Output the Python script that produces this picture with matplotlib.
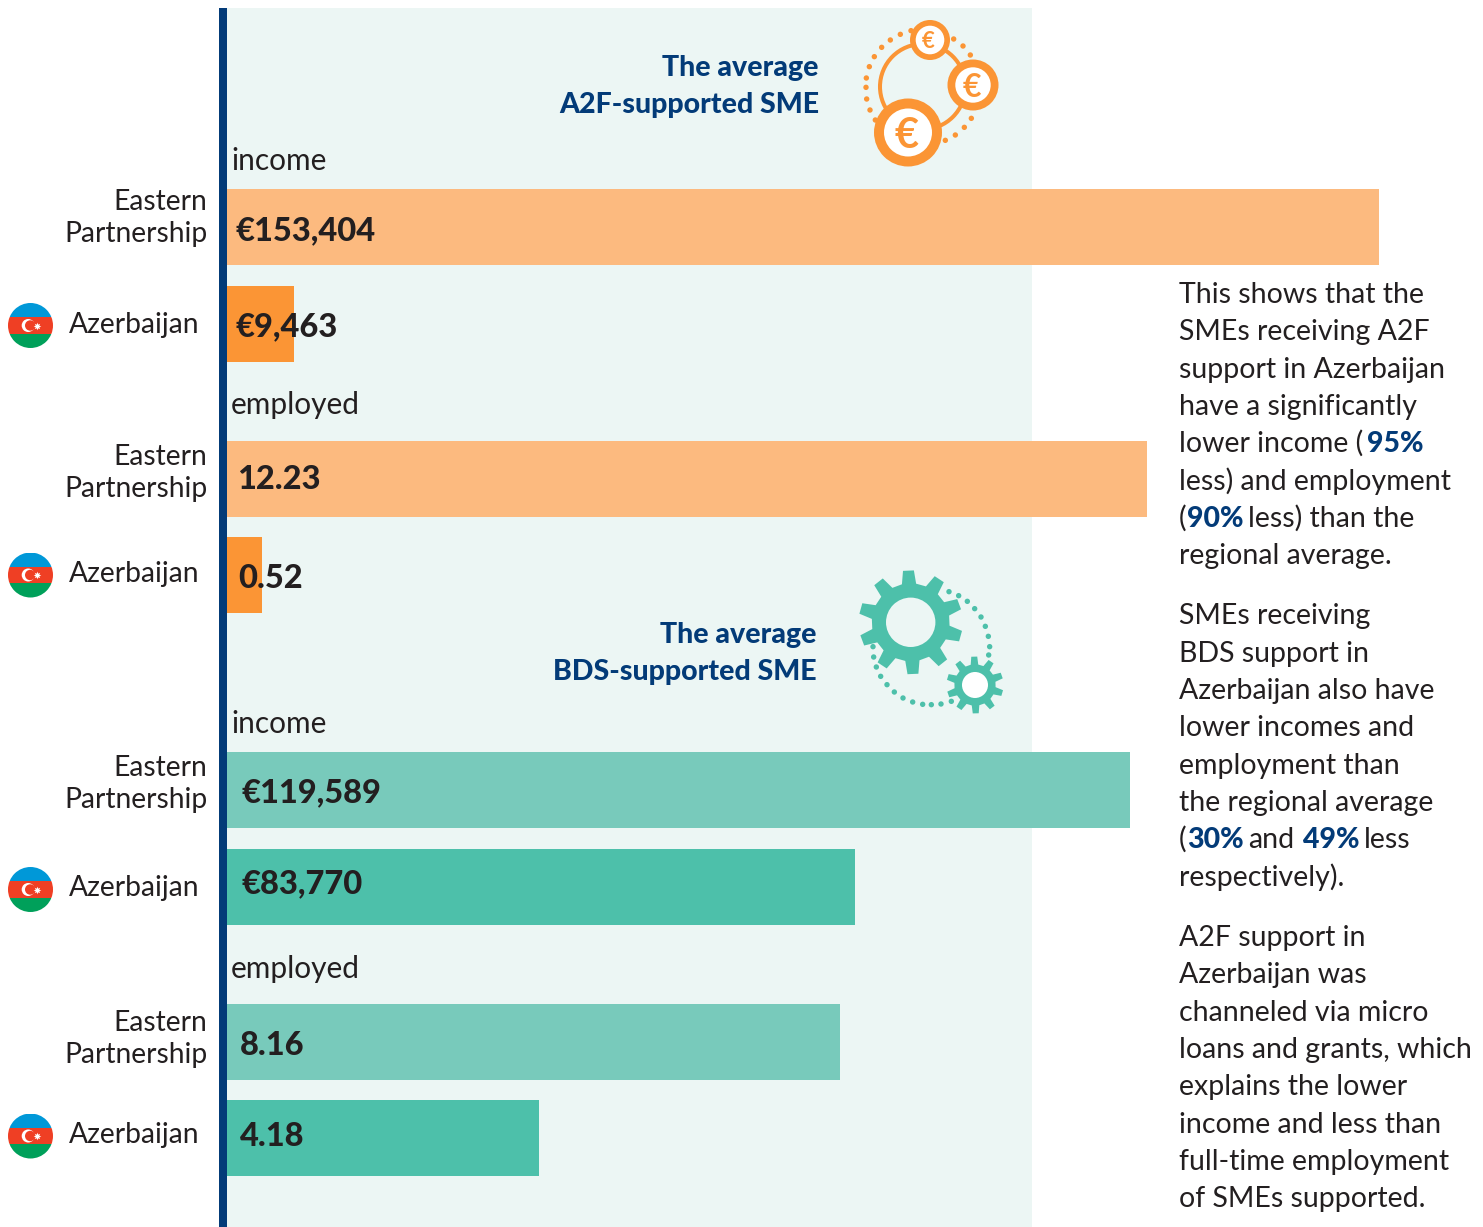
import numpy as np
import matplotlib
matplotlib.use('Agg')
from matplotlib import pyplot as plt
from matplotlib.patches import Circle, Polygon, Rectangle

W, H = 1483, 1227
plt.rcParams['font.family'] = ['Lato', 'DejaVu Sans']

# bar lengths as drawn, some are a little off their printed label in the picture
a2f_income = [153404, 8920]
a2f_employed = [12.23, 0.465]
bds_income = [120200, 83630]
bds_employed = [8.145, 4.15]

a2f_income_labels = ['€153,404', '€9,463']
a2f_employed_labels = ['12.23', '0.52']
bds_income_labels = ['€119,589', '€83,770']
bds_employed_labels = ['8.16', '4.18']

INK = '#231f20'
NAVY = '#033b78'
PANEL = '#ecf6f4'
ORANGE_L, ORANGE_D = '#fcba7f', '#fb9535'
TEAL_L, TEAL_D = '#78cabb', '#4dc0aa'

fig = plt.figure(figsize=(W / 100, H / 100), dpi=100, facecolor='white')


def pixel_axes(z):
    ax = fig.add_axes([0, 0, 1, 1], zorder=z)
    ax.set_xlim(0, W)
    ax.set_ylim(H, 0)
    ax.axis('off')
    return ax


bg = pixel_axes(0)
top = pixel_axes(2)
bg.add_patch(Rectangle((227, 8), 805, H - 8, color=PANEL, lw=0))
bg.add_patch(Rectangle((219, 8), 8, H - 8, color=NAVY, lw=0))


def bars(values, full_value, full_px, y_first, gap, colors):
    # two bars 76 px thick, gap px apart, one axes for each pair
    span = 2 * gap
    y0 = y_first + 38 - gap / 2
    ax = fig.add_axes([227 / W, 1 - (y0 + span) / H, (W - 227) / W, span / H], zorder=1)
    ax.patch.set_visible(False)
    ax.axis('off')
    ax.set_xlim(0, full_value * (W - 227) / full_px)
    ax.set_ylim(1.5, -0.5)
    ax.barh([0, 1], values, height=76 / gap, color=colors)


bars(a2f_income, 153404, 1152, 189, 97, [ORANGE_L, ORANGE_D])
bars(a2f_employed, 12.23, 920, 441, 96, [ORANGE_L, ORANGE_D])
bars(bds_income, 153404, 1152, 752, 97, [TEAL_L, TEAL_D])
bars(bds_employed, 12.23, 920, 1004, 96, [TEAL_L, TEAL_D])

# bar values
for lab, x, y in zip(a2f_income_labels + a2f_employed_labels + bds_income_labels + bds_employed_labels,
                     [236, 236, 237, 238, 241, 241, 240, 240],
                     [240, 336, 489, 588, 802, 893, 1055, 1146]):
    top.text(x, y, lab, fontsize=23.5, fontweight='black', color=INK, ha='left', va='baseline')

# group captions
for lab, y in zip(['income', 'employed', 'income', 'employed'], [170, 414, 733, 978]):
    top.text(231, y, lab, fontsize=21.5, color=INK, ha='left', va='baseline')

# row labels
for y in [210, 465, 776, 1031]:
    top.text(207.5, y, 'Eastern', fontsize=20.3, color=INK, ha='right', va='baseline')
    top.text(207.5, y + 32, 'Partnership', fontsize=20.3, color=INK, ha='right', va='baseline')
for y in [333, 582, 896, 1143]:
    top.text(69, y, 'Azerbaijan', fontsize=20.3, color=INK, ha='left', va='baseline')

# section headings
for lab, x, y in [('The average', 819, 76), ('A2F-supported SME', 819, 113),
                  ('The average', 817, 643), ('BDS-supported SME', 817, 680)]:
    top.text(x, y, lab, fontsize=20.5, fontweight='black', color=NAVY, ha='right', va='baseline')


def flag(cy, cx=30.5, r=22.5):
    clip = Circle((cx, cy), r, transform=top.transData)
    for y, h, c in [(cy - r, r - 8.3, '#0098d8'), (cy - 8.3, 16.6, '#ef3f24'), (cy + 8.3, r - 8.3, '#00a05a')]:
        p = Rectangle((cx - r, y), 2 * r, h, color=c, lw=0)
        top.add_patch(p)
        p.set_clip_path(clip)
    top.add_patch(Circle((cx - 2.3, cy), 6.5, color='white', lw=0))
    top.add_patch(Circle((cx - 0.3, cy), 5.2, color='#ef3f24', lw=0))
    top.plot([cx + 6.7], [cy], marker=(8, 1, 0), ms=5.5, color='white', mew=0)


for cy in [325.5, 575, 889.5, 1136]:
    flag(cy)

# body text, each run is (x, text, bold)
body = [
    (303, [(1179, 'This shows that the', 0)]),
    (340, [(1179, 'SMEs receiving A2F', 0)]),
    (378, [(1179, 'support in Azerbaijan', 0)]),
    (415, [(1179, 'have a significantly', 0)]),
    (452, [(1179, 'lower income (', 0), (1367, '95%', 1)]),
    (490, [(1179, 'less) and employment', 0)]),
    (527, [(1179, '(', 0), (1187, '90%', 1), (1248, 'less) than the', 0)]),
    (564, [(1179, 'regional average.', 0)]),
    (624, [(1179, 'SMEs receiving', 0)]),
    (662, [(1179, 'BDS support in', 0)]),
    (699, [(1179, 'Azerbaijan also have', 0)]),
    (736, [(1179, 'lower incomes and', 0)]),
    (774, [(1179, 'employment than', 0)]),
    (811, [(1179, 'the regional average', 0)]),
    (848, [(1179, '(', 0), (1187, '30%', 1), (1248, 'and', 0), (1303, '49%', 1), (1364, 'less', 0)]),
    (886, [(1179, 'respectively).', 0)]),
    (946, [(1179, 'A2F support in', 0)]),
    (983, [(1179, 'Azerbaijan was', 0)]),
    (1021, [(1179, 'channeled via micro', 0)]),
    (1058, [(1179, 'loans and grants, which', 0)]),
    (1095, [(1179, 'explains the lower', 0)]),
    (1133, [(1179, 'income and less than', 0)]),
    (1170, [(1179, 'full-time employment', 0)]),
    (1207, [(1179, 'of SMEs supported.', 0)]),
]
for y, runs in body:
    for x, s, b in runs:
        top.text(x, y, s, fontsize=20.5, ha='left', va='baseline',
                 color=NAVY if b else INK, fontweight='black' if b else 'normal')


# euro icon
def dots(pts, ox, oy, color, r=2.7):
    for zx, zy in pts:
        top.add_patch(Circle((ox + zx / 3, oy + zy / 3), r, color=color, lw=0))


dots([(181, 73), (151, 90), (125, 112), (103, 140), (88, 170), (79, 204), (78, 232), (80, 267), (90, 300),
      (106, 330), (213, 62), (341, 87), (369, 108), (391, 135), (394, 325), (373, 352), (346, 375), (316, 391)],
     840, 10, ORANGE_D)
top.add_patch(Circle((922.7, 86.7), 42.7, fill=False, ec=ORANGE_D, lw=2.9))
for cx, cy, r_o, r_i, fs in [(908, 132.5, 34, 24, 30), (973, 85, 25.5, 17.7, 23), (930, 40, 20, 14.3, 16)]:
    top.add_patch(Circle((cx, cy), r_o, color=ORANGE_D, lw=0))
    top.add_patch(Circle((cx, cy), r_i, color='white', lw=0))
    top.text(cx - 1.5, cy, '€', fontsize=fs, fontweight='bold', color=ORANGE_D, ha='center', va='center_baseline')


# gear icon
def gear(cx, cy, r_tip, r_root, r_hole, tilt, hole_color):
    pts = []
    for i in range(10):
        a = np.radians(tilt + 36 * i)
        for da, rr in [(-10.5, r_root), (-6, r_tip), (6, r_tip), (10.5, r_root)]:
            t = a + np.radians(da)
            pts.append((cx + rr * np.sin(t), cy - rr * np.cos(t)))
    top.add_patch(Polygon(pts, closed=True, color=TEAL_D, lw=0))
    top.add_patch(Circle((cx, cy), r_hole, color=hole_color, lw=0))


dots([(327, 95), (356, 107), (382, 124), (404, 146), (423, 171), (436, 199), (445, 229), (449, 260), (446, 285),
      (99, 260), (101, 291), (109, 321), (122, 349), (141, 374), (163, 396), (189, 414), (218, 426), (248, 433),
      (274, 434), (303, 432), (334, 424)], 840, 560, TEAL_D)
gear(910.7, 622.3, 52, 39, 24.7, -2.5, PANEL)
gear(975, 685, 28.5, 20.7, 13, -1.5, 'white')

fig.savefig('out.png', dpi=100)
